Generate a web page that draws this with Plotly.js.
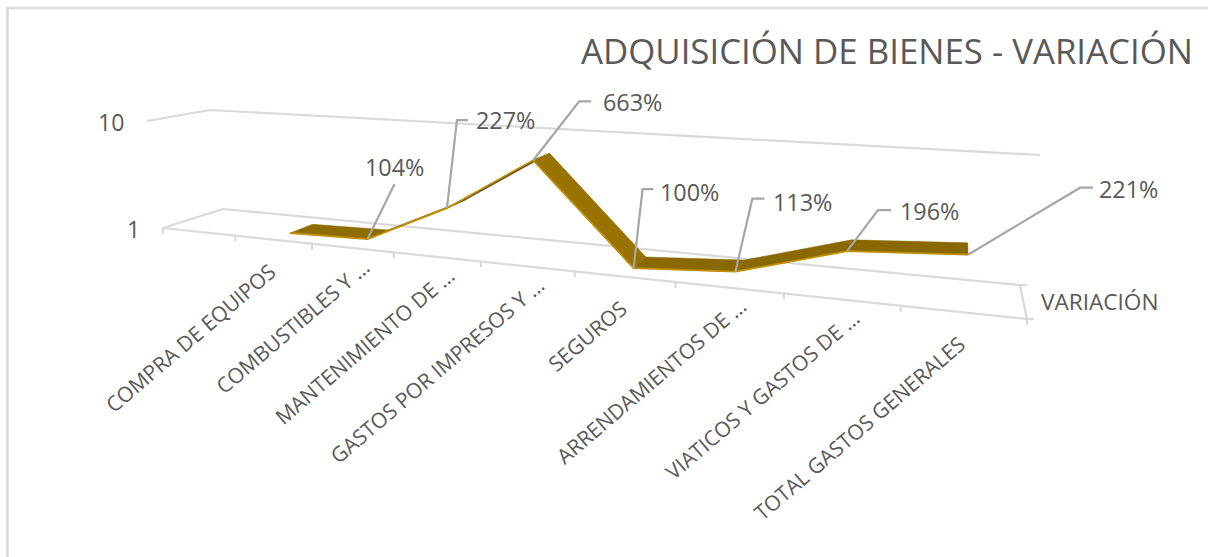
<!DOCTYPE html>
<html>
<head>
<meta charset="utf-8">
<script src="https://cdn.plot.ly/plotly-3.0.1.min.js"></script>
<style>html,body{margin:0;padding:0;background:#fff}#chart{width:1208px;height:557px}</style>
</head>
<body>
<div id="chart"></div>
<script>
// ---- data ----
const categories = ["", "COMPRA DE EQUIPOS", "COMBUSTIBLES Y …", "MANTENIMIENTO DE …", "GASTOS POR IMPRESOS Y …", "SEGUROS", "ARRENDAMIENTOS DE …", "VIATICOS Y GASTOS DE …", "TOTAL GASTOS GENERALES"];
const variacion = [null, 1.00, 1.04, 2.27, 6.63, 1.00, 1.13, 1.96, 2.21];
const valueLabels = ["", "", "104%", "227%", "663%", "100%", "113%", "196%", "221%"];
const valueTicks = [1, 10];
const seriesName = "VARIACIÓN";
const chartTitle = "ADQUISICIÓN DE BIENES - VARIACIÓN";

// ---- look ----
const GREY = "#595959", GRID = "#d9d9d9", LEADER = "#a6a6a6", GOLD = "#bf9000";
const FONT = "'Open Sans', sans-serif";
const segColors = ["#8f6c00", "#7a5c00", "#4a3800", "#997300", "#8a6800", "#8a6800", "#8a6800"];

// ---- 3D box seen in perspective, pixel corners of its floor and top planes ----
const floorQuad = [[163,228],[1027,319],[1020,285],[223,209]];
const topQuad   = [[147,121],[1049,176],[1040,155],[210,110]];
function homography(q){
  const [[x0,y0],[x1,y1],[x2,y2],[x3,y3]] = q;
  const dx1=x1-x2, dx2=x3-x2, sx=x0-x1+x2-x3, dy1=y1-y2, dy2=y3-y2, sy=y0-y1+y2-y3;
  const det=dx1*dy2-dx2*dy1;
  const g=(sx*dy2-dx2*sy)/det, h=(dx1*sy-sx*dy1)/det;
  const a=x1-x0+g*x1, b=x3-x0+h*x3, d=y1-y0+g*y1, e=y3-y0+h*y3;
  return (u,v)=>{const w=g*u+h*v+1; return [(a*u+b*v+x0)/w,(d*u+e*v+y0)/w];};
}
const floorH = homography(floorQuad), topH = homography(topQuad);
// u: position along categories, d: depth, z: decades above 1
function project(u,d,z){
  const uw = u - 0.0045*Math.sin(Math.PI*u);
  const f=floorH(uw,d), t=topH(u,d);
  return [f[0]+(t[0]-f[0])*z, f[1]+(t[1]-f[1])*z];
}
const nCat = categories.length;
const catU = i => (i+0.5)/nCat;
const D0 = 0.30, D1 = 0.72;

const traces = [];
function poly(pts,opts){ traces.push(Object.assign({type:"scatter",mode:"lines",x:pts.map(p=>p[0]),y:pts.map(p=>p[1]),hoverinfo:"skip",showlegend:false},opts)); }
function gl(pts,color,width){ poly(pts,{line:{color:color||GRID,width:width||2.2}}); }

// floor, back wall grid line, side lines
gl([project(0,0,0),project(0,1,0),project(1,1,0)]);
gl([project(0,0,0),project(1,0,0)]);
gl([project(1,1,0),project(1,0,0)]);
gl([project(0,0,1),project(0,1,1),project(1,1,1)]);
// category ticks
for(let i=0;i<=nCat;i++){ const p=project(i/nCat,0,0); gl([p,[p[0],p[1]+6]]); }
// depth-axis ticks
{const a=project(1,1,0), b=project(1,0,0); gl([a,[a[0]+7,a[1]]]); gl([b,[b[0]+7,b[1]]]);}

// ribbon, one face per segment
const idx = variacion.map((v,i)=>v==null?-1:i).filter(i=>i>=0);
for(let s=0;s<idx.length-1;s++){
  const i=idx[s], j=idx[s+1], zi=Math.log10(variacion[i]), zj=Math.log10(variacion[j]);
  const pts=[project(catU(i),D0,zi),project(catU(j),D0,zj),project(catU(j),D1,zj),project(catU(i),D1,zi)];
  pts.push(pts[0]);
  poly(pts,{fill:"toself",fillcolor:segColors[s],line:{color:segColors[s],width:0.5}});
}
// bright front edge of the ribbon
gl(idx.map(i=>project(catU(i),D0,Math.log10(variacion[i]))),GOLD,1.8);

// leader lines: elbow and tail offsets from the point, in pixels
const leaderOffsets = {2:[[27,-55]],3:[[10,-88],[21,-88]],4:[[46,-59],[58,-59]],5:[[9,-79],[20,-79]],6:[[17,-73],[29,-73]],7:[[31,-41],[44,-41]],8:[[112,-67],[125,-67]]};
const labelOffsets = {2:[27,-72],3:[59,-88],4:[99,-58],5:[56,-76],6:[67,-70],7:[82,-40],8:[160,-66]};
const annotations=[];
const txt=(x,y,t,size,o)=>annotations.push(Object.assign({xref:"x",yref:"y",x:x,y:y,text:t,showarrow:false,font:{family:FONT,size:size,color:GREY}},o||{}));
idx.forEach(i=>{
  if(!valueLabels[i]) return;
  const p=project(catU(i),D0,Math.log10(variacion[i]));
  gl([p].concat(leaderOffsets[i].map(o=>[p[0]+o[0],p[1]+o[1]])),LEADER,2.2);
  const l=labelOffsets[i];
  txt(p[0]+l[0],p[1]+l[1],valueLabels[i],23.4);
});
// category labels: names cut short by the axis sit further along their slant
categories.forEach((c,i)=>{
  if(!c) return;
  const p=project(catU(i),0,0), cut=c.endsWith("…");
  txt(p[0]+(cut?26:11),p[1]+(cut?2:15),c,21,{textangle:-40.5,xanchor:"right",yanchor:"top"});
});
// value axis labels
valueTicks.forEach(t=>{ const p=project(0,0,Math.log10(t)); txt(p[0]-21,p[1]+1,String(t),23,{xanchor:"right",yanchor:"middle"}); });
// series name
{const p=project(1,0.5,0); txt(p[0]+16,p[1]+0,seriesName,22.6,{xanchor:"left",yanchor:"middle"});}

const layout={
  width:1208,height:557,margin:{l:0,r:0,t:0,b:0},
  paper_bgcolor:"#fff",plot_bgcolor:"#fff",showlegend:false,
  title:{text:chartTitle,x:1,xanchor:"right",xref:"paper",pad:{r:15},y:0.907,yanchor:"middle",font:{family:FONT,size:34.8,color:GREY}},
  xaxis:{range:[0,1208],visible:false,fixedrange:true},
  yaxis:{range:[557,0],visible:false,fixedrange:true},
  annotations:annotations,
  shapes:[{type:"line",xref:"x",yref:"y",x0:7.5,x1:7.5,y0:8,y1:557,line:{color:GRID,width:2.5}},
          {type:"line",xref:"x",yref:"y",x0:6,x1:1208,y0:8,y1:8,line:{color:GRID,width:2.5}}]
};
Plotly.newPlot("chart",traces,layout,{displayModeBar:false,staticPlot:true});
</script>
</body>
</html>
